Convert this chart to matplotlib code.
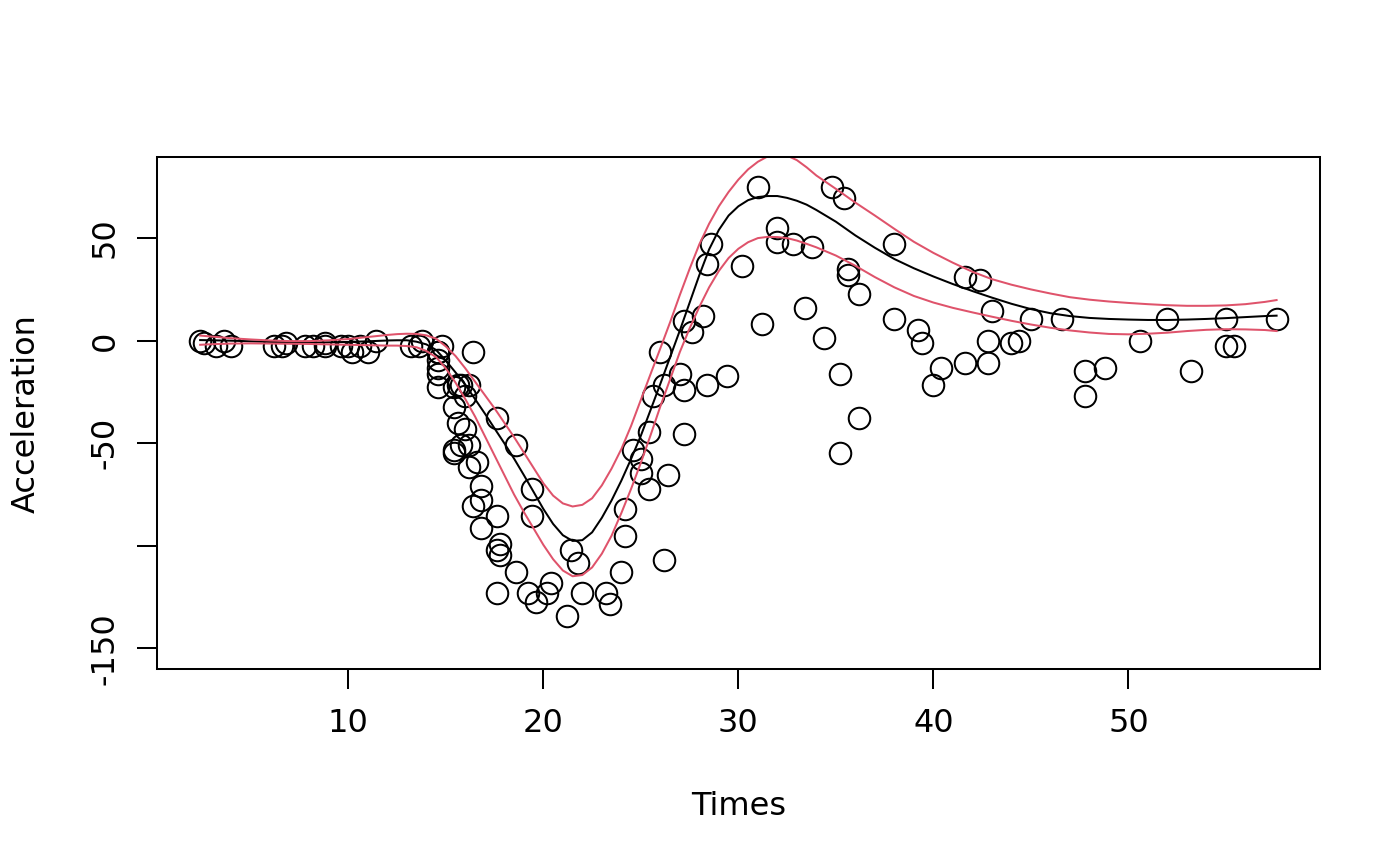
import matplotlib
matplotlib.use("Agg")
import matplotlib.pyplot as plt

# motorcycle crash data: time after impact (ms) and head acceleration (g)
times = [2.4, 2.6, 3.2, 3.6, 4.0, 6.2, 6.6, 6.8, 7.8, 8.2, 8.8, 8.8, 9.6, 10.0, 10.2, 10.6, 11.0, 11.4,
         13.2, 13.6, 13.8, 14.6, 14.6, 14.6, 14.6, 14.6, 14.6, 14.8, 15.4, 15.4, 15.4, 15.4, 15.6, 15.6,
         15.8, 15.8, 16.0, 16.0, 16.2, 16.2, 16.2, 16.4, 16.4, 16.6, 16.8, 16.8, 16.8, 17.6, 17.6, 17.6,
         17.6, 17.8, 17.8, 18.6, 18.6, 19.2, 19.4, 19.4, 19.6, 20.2, 20.4, 21.2, 21.4, 21.8, 22.0, 23.2,
         23.4, 24.0, 24.2, 24.2, 24.6, 25.0, 25.0, 25.4, 25.4, 25.6, 26.0, 26.2, 26.2, 26.4, 27.0, 27.2,
         27.2, 27.2, 27.6, 28.2, 28.4, 28.4, 28.6, 29.4, 30.2, 31.0, 31.2, 32.0, 32.0, 32.8, 33.4, 33.8,
         34.4, 34.8, 35.2, 35.2, 35.4, 35.6, 35.6, 36.2, 36.2, 38.0, 38.0, 39.2, 39.4, 40.0, 40.4, 41.6,
         41.6, 42.4, 42.8, 42.8, 43.0, 44.0, 44.4, 45.0, 46.6, 47.8, 47.8, 48.8, 50.6, 52.0, 53.2, 55.0,
         55.0, 55.4, 57.6]
accel = [0.0, -1.3, -2.7, 0.0, -2.7, -2.7, -2.7, -1.3, -2.7, -2.7, -1.3, -2.7, -2.7, -2.7, -5.4, -2.7,
         -5.4, 0.0, -2.7, -2.7, 0.0, -13.3, -5.4, -5.4, -9.3, -16.0, -22.8, -2.7, -22.8, -32.1, -53.5,
         -54.9, -40.2, -21.5, -21.5, -50.8, -42.9, -26.8, -21.5, -50.8, -61.7, -5.4, -80.4, -59.0, -71.0,
         -91.1, -77.7, -37.5, -85.6, -123.1, -101.9, -99.1, -104.4, -112.5, -50.8, -123.1, -85.6, -72.3,
         -127.2, -123.1, -117.9, -134.0, -101.9, -108.4, -123.1, -123.1, -128.5, -112.5, -95.1, -81.8,
         -53.5, -64.4, -57.6, -72.3, -44.3, -26.8, -5.4, -107.1, -21.5, -65.6, -16.0, -45.6, -24.2, 9.5,
         4.0, 12.0, -21.5, 37.5, 46.9, -17.4, 36.2, 75.0, 8.1, 54.9, 48.2, 46.9, 16.0, 45.6, 1.3, 75.0,
         -16.0, -54.9, 69.6, 34.8, 32.1, -37.5, 22.8, 46.9, 10.7, 5.4, -1.3, -21.5, -13.3, 30.8, -10.7,
         29.4, 0.0, -10.7, 14.7, -1.3, 0.0, 10.7, 10.7, -26.8, -14.7, -13.3, 0.0, 10.7, -14.7, -2.7, 10.7,
         -2.7, 10.7]

# smooth fit and its band
fit_times = [2.4, 3, 4, 5, 6, 7, 8, 9, 10, 11, 12, 12.5, 13, 13.5, 14, 14.5, 15, 15.5, 16, 16.5, 17,
             17.5, 18, 18.5, 19, 19.5, 20, 20.5, 21, 21.5, 22, 22.5, 23, 23.5, 24, 24.5, 25, 25.5, 26,
             26.5, 27, 27.5, 28, 28.5, 29, 29.5, 30, 30.5, 31, 31.5, 32, 32.5, 33, 33.5, 34, 35, 36, 37,
             38, 39, 40, 41, 42, 43, 44, 45, 46, 47, 48, 49, 50, 51, 52, 53, 54, 55, 56, 57, 57.6]
fit_mean = [0.3, 0.2, 0.0, -0.3, -0.6, -0.8, -0.9, -0.8, -0.6, -0.3, 0.1, 0.2, 0.2, -0.5, -1.8, -4.5,
            -9.7, -15.5, -21.5, -28.5, -35.5, -42.8, -50.0, -57.5, -65.5, -73.7, -82.0, -89.3, -94.8,
            -97.6, -97.2, -93.4, -86.3, -77.8, -68.2, -57.6, -46.3, -33.7, -21.0, -8.0, 5.0, 18.5, 32.0,
            44.5, 54.0, 61.0, 65.5, 68.5, 70.0, 70.5, 70.5, 69.6, 68.2, 66.3, 63.7, 58.0, 51.3, 45.3,
            39.8, 35.3, 31.3, 27.6, 24.2, 21.0, 18.0, 15.4, 13.4, 12.0, 11.1, 10.6, 10.3, 10.1, 10.1,
            10.3, 10.6, 11.0, 11.5, 12.0, 12.2]
fit_upper = [2.5, 2.0, 1.2, 0.6, 0.1, -0.2, -0.2, 0.2, 0.8, 1.8, 2.8, 3.2, 3.4, 3.3, 2.6, 1.0, -2.8,
             -7.5, -13.5, -20.0, -26.5, -33.0, -40.0, -47.0, -54.5, -62.0, -69.5, -75.5, -79.3, -80.8,
             -80.0, -76.8, -70.5, -62.3, -52.8, -41.5, -28.8, -16.2, -3.7, 9.0, 22.3, 35.0, 47.0, 57.0,
             65.5, 72.5, 78.5, 83.5, 87.2, 89.8, 91.0, 90.2, 88.0, 84.5, 80.5, 74.0, 67.3, 61.0, 54.5,
             48.2, 42.8, 38.0, 33.6, 30.0, 27.3, 25.0, 23.0, 21.2, 20.0, 19.1, 18.4, 17.8, 17.3, 17.0,
             17.0, 17.2, 17.8, 18.9, 19.8]
fit_lower = [-2.0, -1.7, -1.4, -1.3, -1.4, -1.5, -1.6, -1.8, -2.0, -2.2, -2.4, -2.4, -2.6, -3.2, -5.0,
             -8.0, -13.5, -20.5, -28.5, -37.0, -46.5, -56.0, -65.5, -75.0, -83.5, -91.5, -99.5, -106.5,
             -112.0, -114.8, -114.2, -110.5, -103.8, -95.0, -84.0, -72.2, -59.5, -46.0, -32.0, -18.8,
             -5.5, 6.0, 16.5, 26.0, 34.0, 40.3, 44.8, 48.0, 50.0, 50.6, 50.5, 50.0, 48.8, 47.2, 45.5,
             41.5, 36.5, 31.0, 26.0, 21.8, 18.6, 16.0, 13.8, 11.7, 9.7, 7.9, 6.3, 5.0, 4.0, 3.3, 3.1,
             3.4, 3.9, 4.7, 5.3, 5.6, 5.5, 5.2, 4.7]

x_ticks = [10, 20, 30, 40, 50]
y_ticks = [-150, -100, -50, 0, 50]
y_tick_labels = ["-150", "", "-50", "0", "50"]

RED = "#DF536B"
LW = 1.45

plt.rcParams["font.family"] = "DejaVu Sans"
fig = plt.figure(figsize=(14, 8.65), dpi=100)
ax = fig.add_axes([0.1122, 0.2266, 0.8304, 0.5916])

ax.plot(times, accel, linestyle="none", marker="o", markersize=15.5,
        markerfacecolor="none", markeredgecolor="black", markeredgewidth=LW)
ax.plot(fit_times, fit_mean, color="black", linewidth=LW)
ax.plot(fit_times, fit_upper, color=RED, linewidth=LW)
ax.plot(fit_times, fit_lower, color=RED, linewidth=LW)

ax.set_xlim(0.192, 59.808)
ax.set_ylim(-160.0, 89.4)
ax.set_xticks(x_ticks)
ax.set_xticklabels([str(t) for t in x_ticks])
ax.set_yticks(y_ticks)
ax.set_yticklabels(y_tick_labels, rotation=90, va="center")

for side in ax.spines.values():
    side.set_linewidth(LW)
ax.tick_params(axis="both", direction="out", length=14.4, width=LW, labelsize=23)
ax.tick_params(axis="x", pad=14)
ax.tick_params(axis="y", pad=12)

ax.set_xlabel("Times", fontsize=23, labelpad=37)
ax.set_ylabel("Acceleration", fontsize=23, labelpad=34)

fig.savefig("out.png", dpi=100)
